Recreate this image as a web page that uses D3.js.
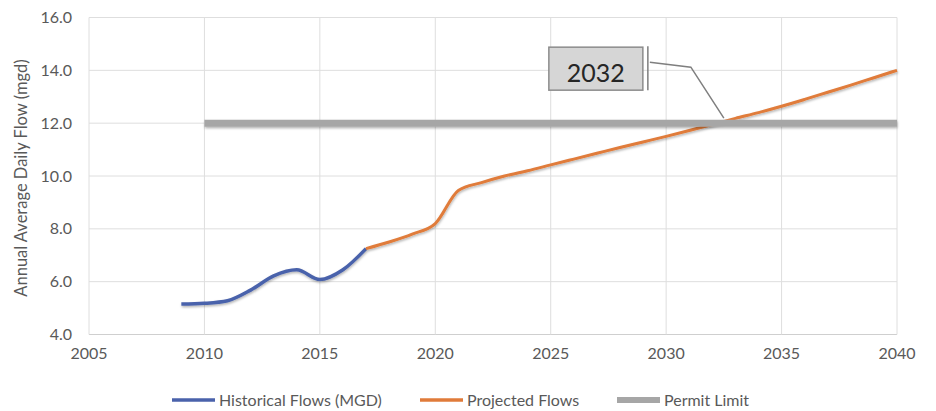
<!DOCTYPE html>
<html lang="en">
<head>
  <meta charset="UTF-8">
  <title>Annual Average Daily Flow</title>
  <style>
    body { margin: 0; background: #fff; }
    text { font-family: Lato, "Open Sans", sans-serif; }
  </style>
</head>
<body>
  <svg id="svg" width="936" height="411"></svg>

  <script src="https://d3js.org/d3.v7.min.js"></script>
  <script>
    // data
    const histYears = [2009, 2010, 2011, 2012, 2013, 2014, 2015, 2016, 2017]
    const histFlows = [5.15, 5.18, 5.28, 5.68, 6.22, 6.45, 6.08, 6.45, 7.25]

    const projYears = [2017, 2018, 2019, 2020, 2021, 2022, 2023, 2024, 2025, 2026, 2027, 2028,
                       2029, 2030, 2031, 2032, 2033, 2034, 2035, 2036, 2037, 2038, 2039, 2040]
    const projFlows = [7.25, 7.5, 7.8, 8.2, 9.45, 9.75, 10.0, 10.2, 10.42, 10.64, 10.86, 11.08,
                       11.29, 11.5, 11.72, 11.95, 12.18, 12.4, 12.64, 12.9, 13.17, 13.44, 13.72, 14.0]

    const permitYears = [2010, 2040]
    const permitFlows = [12.0, 12.0]

    const xTicks = [2005, 2010, 2015, 2020, 2025, 2030, 2035, 2040]
    const yTicks = [4, 6, 8, 10, 12, 14, 16]

    const crossYear = 2032.5
    const crossLabel = '2032'

    const seriesNames = ['Historical Flows (MGD)', 'Projected Flows', 'Permit Limit']
    const seriesColors = ['#4a62ab', '#e07b3a', '#a6a6a6']

    const svg = d3.select('#svg')

    const xScale = d3.scaleLinear().domain([2005, 2040]).range([89, 897])
    const yScale = d3.scaleLinear().domain([4, 16]).range([334.5, 17.5])

    // soft shadow under the lines (user space so the flat limit line keeps a region)
    const defs = svg.append('defs')
    defs.append('filter')
      .attr('id', 'shadow')
      .attr('filterUnits', 'userSpaceOnUse')
      .attr('x', 0).attr('y', 0).attr('width', 936).attr('height', 411)
      .append('feDropShadow')
      .attr('dx', 0.5).attr('dy', 1.5)
      .attr('stdDeviation', 1.2)
      .attr('flood-color', '#000')
      .attr('flood-opacity', 0.3)

    // gridlines
    svg.append('g')
      .selectAll('line')
      .data(yTicks)
      .enter()
      .append('line')
      .attr('x1', xScale(2005)).attr('x2', xScale(2040))
      .attr('y1', d => yScale(d)).attr('y2', d => yScale(d))
      .attr('stroke', d => d === 4 ? '#cfcfcf' : '#dedede')
      .attr('stroke-width', 1)

    svg.append('g')
      .selectAll('line')
      .data(xTicks)
      .enter()
      .append('line')
      .attr('x1', d => xScale(d)).attr('x2', d => xScale(d))
      .attr('y1', yScale(16)).attr('y2', yScale(4))
      .attr('stroke', '#dedede')
      .attr('stroke-width', 1)

    // tick labels
    svg.append('g')
      .selectAll('text')
      .data(yTicks)
      .enter()
      .append('text')
      .attr('x', 72)
      .attr('y', d => yScale(d) + 5.5)
      .attr('text-anchor', 'end')
      .style('font-size', '16px')
      .attr('fill', '#595959')
      .text(d => d.toFixed(1))

    svg.append('g')
      .selectAll('text')
      .data(xTicks)
      .enter()
      .append('text')
      .attr('x', d => xScale(d))
      .attr('y', 359)
      .attr('text-anchor', 'middle')
      .style('font-size', '16px')
      .attr('fill', '#595959')
      .text(d => d)

    // axis title
    svg.append('text')
      .attr('transform', 'translate(27,178) rotate(-90)')
      .attr('text-anchor', 'middle')
      .style('font-size', '16.5px')
      .attr('fill', '#595959')
      .text('Annual Average Daily Flow (mgd)')

    // series
    const line = d3.line()
      .x(d => xScale(d[0]))
      .y(d => yScale(d[1]))
      .curve(d3.curveMonotoneX)

    const series = [
      { pts: d3.zip(histYears, histFlows), width: 3.5 },
      { pts: d3.zip(projYears, projFlows), width: 3 },
      { pts: d3.zip(permitYears, permitFlows), width: 7 }
    ]

    svg.append('g')
      .selectAll('path')
      .data(series)
      .enter()
      .append('path')
      .attr('d', d => line(d.pts))
      .attr('fill', 'none')
      .attr('stroke', (d, i) => seriesColors[i])
      .attr('stroke-width', d => d.width)
      .attr('stroke-linecap', 'butt')
      .attr('filter', 'url(#shadow)')

    // callout for the year the projection crosses the limit
    const ax = xScale(crossYear)
    const ay = yScale(12) - 5
    const callout = svg.append('g')

    callout.append('path')
      .attr('d', d3.line()([[ax, ay], [ax - 33, ay - 51], [ax - 74, ay - 56]]))
      .attr('fill', 'none')
      .attr('stroke', '#7f7f7f')
      .attr('stroke-width', 1.5)

    callout.append('line')
      .attr('x1', ax - 76).attr('x2', ax - 76)
      .attr('y1', ay - 72).attr('y2', ay - 28)
      .attr('stroke', '#7f7f7f')
      .attr('stroke-width', 1.5)

    callout.append('rect')
      .attr('x', ax - 175).attr('y', ay - 71)
      .attr('width', 94).attr('height', 43)
      .attr('fill', '#d6d6d6')
      .attr('stroke', '#8c8c8c')
      .attr('stroke-width', 1.5)

    callout.append('text')
      .attr('x', ax - 128)
      .attr('y', ay - 36)
      .attr('text-anchor', 'middle')
      .style('font-size', '25px')
      .attr('fill', '#262626')
      .text(crossLabel)

    // legend
    const legendX = [172, 420, 617]
    const legend = svg.append('g')
      .selectAll('g')
      .data(seriesNames)
      .enter()
      .append('g')
      .attr('transform', (d, i) => `translate(${legendX[i]},400)`)

    legend.append('line')
      .attr('x1', 0).attr('x2', 43)
      .attr('y1', 0).attr('y2', 0)
      .attr('stroke', (d, i) => seriesColors[i])
      .attr('stroke-width', (d, i) => i === 2 ? 6 : 3.5)

    legend.append('text')
      .attr('x', 47)
      .attr('y', 6)
      .style('font-size', '16px')
      .attr('fill', '#595959')
      .text(d => d)
  </script>
</body>
</html>
